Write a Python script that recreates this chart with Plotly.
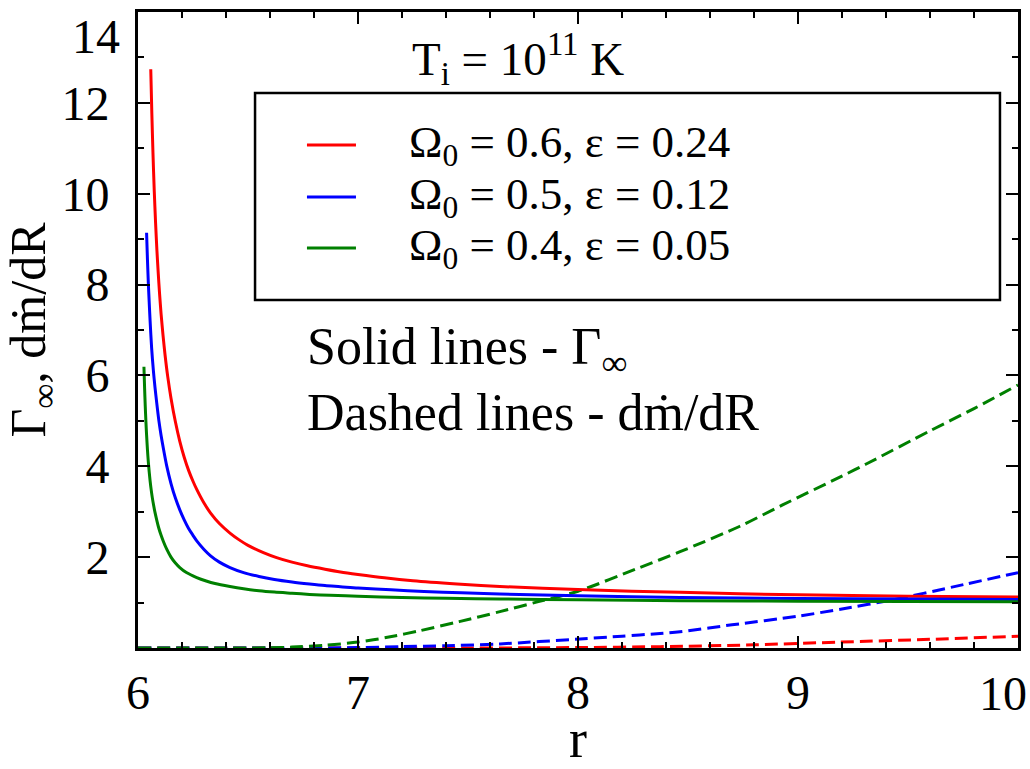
import plotly.graph_objects as go

# ---- data ----
# Solid lines: Gamma_inf
r_red_s = [6.058, 6.063, 6.068, 6.074, 6.080, 6.086, 6.092, 6.098, 6.105, 6.114, 6.123, 6.135, 6.15,
           6.17, 6.19, 6.21, 6.23, 6.25, 6.267, 6.30, 6.33, 6.37, 6.418, 6.46, 6.5, 6.57,
           6.63, 6.7, 6.77, 6.85, 6.92, 7.0, 7.12, 7.25, 7.45, 7.645, 8.0, 8.464, 9.0, 9.5, 10.0]
g_red_s = [12.74, 11.75, 10.9, 10.05, 9.35, 8.75, 8.25, 7.8, 7.35, 6.87, 6.45, 5.98, 5.5,
           4.98, 4.55, 4.2, 3.91, 3.67, 3.49, 3.19, 2.97, 2.74, 2.53, 2.38, 2.26, 2.10,
           1.99, 1.89, 1.81, 1.735, 1.675, 1.62, 1.545, 1.48, 1.41, 1.355, 1.285, 1.225, 1.17, 1.14, 1.12]

r_blue_s = [6.039, 6.043, 6.047, 6.051, 6.055, 6.062, 6.070, 6.077, 6.085, 6.095, 6.105, 6.115, 6.13,
            6.15, 6.17, 6.19, 6.21, 6.23, 6.25, 6.267, 6.30, 6.33, 6.37, 6.418, 6.48, 6.55,
            6.62, 6.7, 6.78, 6.85, 6.92, 7.0, 7.15, 7.3, 7.47, 7.645, 8.0, 8.464, 9.0, 9.5, 10.0]
g_blue_s = [9.14, 8.55, 8.03, 7.6, 7.2, 6.6, 6.1, 5.75, 5.4, 5.0, 4.68, 4.4, 4.02,
            3.62, 3.30, 3.04, 2.82, 2.63, 2.48, 2.36, 2.17, 2.03, 1.89, 1.77, 1.66, 1.575,
            1.51, 1.455, 1.41, 1.375, 1.35, 1.32, 1.28, 1.245, 1.215, 1.19, 1.15, 1.11, 1.09, 1.08, 1.07]

r_green_s = [6.027, 6.030, 6.033, 6.036, 6.039, 6.043, 6.047, 6.051, 6.055, 6.060, 6.065, 6.071, 6.077,
             6.086, 6.095, 6.105, 6.115, 6.13, 6.15, 6.17, 6.19, 6.22, 6.267, 6.31, 6.35,
             6.418, 6.48, 6.55, 6.62, 6.7, 6.78, 6.873, 7.0, 7.2, 7.4, 7.645, 8.0, 8.464, 9.0, 10.0]
g_green_s = [6.19, 5.72, 5.32, 4.98, 4.69, 4.36, 4.09, 3.87, 3.68, 3.48, 3.31, 3.14, 2.99,
             2.80, 2.63, 2.48, 2.35, 2.18, 2.00, 1.87, 1.77, 1.66, 1.55, 1.475, 1.42,
             1.355, 1.305, 1.26, 1.23, 1.205, 1.18, 1.16, 1.14, 1.11, 1.095, 1.08, 1.06, 1.04, 1.03, 1.02]

# Dashed lines: dm/dR
r_green_d = [6.0, 6.5, 6.6, 6.7, 6.85, 7.0, 7.14, 7.28, 7.46, 7.645, 7.82, 8.0, 8.28, 8.464, 8.736,
             8.93, 9.19, 9.31, 9.6, 9.8, 10.0]
m_green_d = [0.0, 0.0, 0.005, 0.02, 0.06, 0.13, 0.24, 0.38, 0.58, 0.80, 1.02, 1.25, 1.77, 2.12, 2.68,
             3.15, 3.76, 4.05, 4.78, 5.27, 5.79]

r_blue_d = [6.0, 6.8, 7.0, 7.2, 7.4, 7.645, 8.01, 8.2, 8.373, 8.464, 8.7, 9.0, 9.2, 9.43, 9.7, 10.0]
m_blue_d = [0.0, 0.0, 0.01, 0.03, 0.05, 0.09, 0.20, 0.26, 0.32, 0.36, 0.51, 0.70, 0.86, 1.06, 1.34, 1.66]

r_red_d = [6.0, 7.5, 8.0, 8.373, 8.8, 9.19, 9.6, 10.0]
m_red_d = [0.0, 0.0, 0.01, 0.03, 0.07, 0.13, 0.19, 0.26]

labels = ["Ω<sub>0</sub> = 0.6, ε = 0.24",
          "Ω<sub>0</sub> = 0.5, ε = 0.12",
          "Ω<sub>0</sub> = 0.4, ε = 0.05"]
colors = ["#ff0000", "#0000ff", "#008000"]

x_ticks = [6, 7, 8, 9, 10]
y_ticks = [2, 4, 6, 8, 10, 12, 14]

FONT = "Liberation Serif, Times New Roman, Times, DejaVu Serif, serif"

fig = go.Figure()

dashed = [(r_red_d, m_red_d), (r_blue_d, m_blue_d), (r_green_d, m_green_d)]
solid = [(r_red_s, g_red_s), (r_blue_s, g_blue_s), (r_green_s, g_green_s)]

for (r, m), c, lab in zip(dashed, colors, labels):
    fig.add_trace(go.Scatter(x=r, y=m, mode="lines", name=lab + " (dṁ/dR)",
                             line=dict(color=c, width=3, dash="13px,6px", shape="spline", smoothing=0.8),
                             showlegend=False))
for (r, g), c, lab in zip(solid, colors, labels):
    fig.add_trace(go.Scatter(x=r, y=g, mode="lines", name=lab,
                             line=dict(color=c, width=3, shape="spline", smoothing=0.8),
                             showlegend=False))

axis_common = dict(showline=True, linecolor="black", linewidth=3, mirror="allticks",
                   ticks="inside", ticklen=12, tickwidth=2, tickcolor="black",
                   showgrid=False, zeroline=False, automargin=False,
                   tickfont=dict(family=FONT, size=48, color="black"))

# edge labels ("10" on x, "14" on y) are drawn as shifted annotations like the reference
fig.update_xaxes(range=[6, 10], tickmode="array", tickvals=x_ticks,
                 ticktext=[str(v) if v != x_ticks[-1] else "" for v in x_ticks],
                 minor=dict(dtick=0.2, tick0=6, ticks="inside", ticklen=6, tickwidth=2,
                            tickcolor="black", showgrid=False),
                 ticklabelstandoff=0,
                 title=dict(text="r", font=dict(family=FONT, size=54, color="black"), standoff=33),
                 **axis_common)
fig.update_yaxes(range=[0, 14], tickmode="array", tickvals=y_ticks,
                 ticktext=[str(v) if v != y_ticks[-1] else "" for v in y_ticks],
                 minor=dict(dtick=1, tick0=0, ticks="inside", ticklen=6, tickwidth=2,
                            tickcolor="black", showgrid=False),
                 ticklabelstandoff=16,
                 title=dict(text="Γ<sub>∞</sub>, dṁ/dR", font=dict(family=FONT, size=50, color="black"),
                            standoff=20),
                 **axis_common)

annotations = []
annotations.append(dict(text=str(y_ticks[-1]), xref="paper", yref="y", x=0, y=y_ticks[-1],
                        xanchor="right", yanchor="middle",
                        xshift=-16, yshift=-24, showarrow=False,
                        font=dict(family=FONT, size=48, color="black")))
annotations.append(dict(text=str(x_ticks[-1]), xref="x", yref="paper", x=x_ticks[-1], y=0,
                        xanchor="right", yanchor="top",
                        xshift=11, yshift=-17, showarrow=False,
                        font=dict(family=FONT, size=48, color="black")))
annotations.append(dict(text="T<sub>i</sub> = 10<sup>11</sup> K", xref="paper", yref="paper",
                        x=0.432, y=0.926, xanchor="center", yanchor="middle", showarrow=False,
                        font=dict(family=FONT, size=47, color="black")))
annotations.append(dict(text="Solid lines - Γ<sub>∞</sub>", xref="paper", yref="paper",
                        x=0.1895, y=0.468, xanchor="left", yanchor="middle", showarrow=False,
                        font=dict(family=FONT, size=52, color="black")))
annotations.append(dict(text="Dashed lines - dṁ/dR", xref="paper", yref="paper",
                        x=0.1895, y=0.370, xanchor="left", yanchor="middle", showarrow=False,
                        font=dict(family=FONT, size=52, color="black")))

shapes = [dict(type="rect", xref="paper", yref="paper", x0=0.133, x1=0.9795, y0=0.5472, y1=0.8726,
               line=dict(color="black", width=2.5), fillcolor="rgba(0,0,0,0)")]
leg_y = [0.7909, 0.7091, 0.6289]
for yy, c, lab in zip(leg_y, colors, labels):
    shapes.append(dict(type="line", xref="paper", yref="paper", x0=0.192, x1=0.2477, y0=yy, y1=yy,
                       line=dict(color=c, width=3)))
    annotations.append(dict(text=lab, xref="paper", yref="paper", x=0.306, y=yy,
                            xanchor="left", yanchor="middle", showarrow=False,
                            font=dict(family=FONT, size=45, color="black")))

fig.update_layout(width=1030, height=769, margin=dict(l=138, r=12, t=12, b=121, autoexpand=False),
                  paper_bgcolor="white", plot_bgcolor="white",
                  font=dict(family=FONT, color="black"),
                  annotations=annotations, shapes=shapes, showlegend=False)

fig.write_html("out.html", config={"displayModeBar": False},
               post_script="document.body.style.margin='0';document.body.style.padding='0';")
